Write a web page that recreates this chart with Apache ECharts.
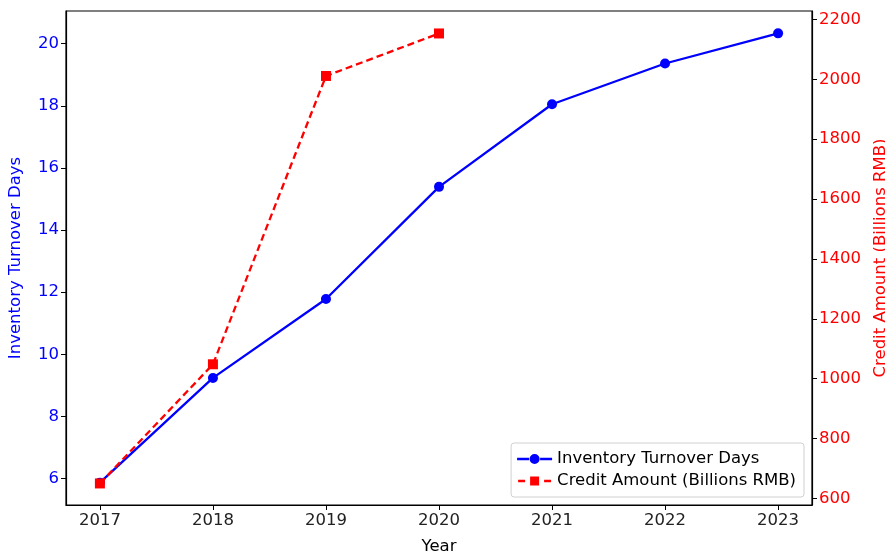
<!DOCTYPE html>
<html>
<head>
<meta charset="utf-8">
<script src="https://cdn.jsdelivr.net/npm/echarts@6/dist/echarts.min.js"></script>
<style>
  html, body { margin: 0; padding: 0; background: #fff; }
  #chart { width: 885px; height: 557px; }
</style>
</head>
<body>
<div id="chart"></div>
<script>
// data
const years = [2017, 2018, 2019, 2020, 2021, 2022, 2023];
const turnoverDays = [5.87, 9.24, 11.78, 15.39, 18.05, 19.36, 20.33];
const creditYears = [2017, 2018, 2019, 2020];
const creditAmount = [650, 1048, 2011, 2153];

const leftTicks = [6, 8, 10, 12, 14, 16, 18, 20];
const rightTicks = [600, 800, 1000, 1200, 1400, 1600, 1800, 2000, 2200];

const chart = echarts.init(document.getElementById('chart'));
const font = 'DejaVu Sans';
const fs = 16.5;

// legend icons: line + marker
const blueIcon = 'path://M0,3.8 L12,3.8 L12,6.2 L0,6.2 Z M23,3.8 L35,3.8 L35,6.2 L23,6.2 Z M12.5,5 a5,5 0 1,0 10,0 a5,5 0 1,0 -10,0 Z';
const redIcon = 'path://M1,3.8 L8,3.8 L8,6.2 L1,6.2 Z M27,3.8 L34,3.8 L34,6.2 L27,6.2 Z M13,0.5 L22,0.5 L22,9.5 L13,9.5 Z M0,0 L0.01,0 L0.01,0.01 Z M35,10 L34.99,10 L34.99,9.99 Z';

const option = {
    animation: false,
    textStyle: { fontFamily: font },
    grid: {
        left: 66, right: 73, top: 11, bottom: 52,
        containLabel: false, outerBoundsMode: 'none',
        show: true, borderColor: '#000', borderWidth: 1.2
    },
    legend: {
        orient: 'vertical',
        right: 81, bottom: 60,
        itemWidth: 35, itemHeight: 10, itemGap: 2,
        padding: [6, 8, 6, 6],
        backgroundColor: 'rgba(255,255,255,0.8)',
        borderColor: '#d0d0d0', borderWidth: 1, borderRadius: 3,
        textStyle: { fontFamily: font, fontSize: fs, color: '#000', lineHeight: 20 },
        data: [
            { name: 'Inventory Turnover Days', icon: blueIcon },
            { name: 'Credit Amount (Billions RMB)', icon: redIcon }
        ]
    },
    xAxis: {
        type: 'value', min: 2016.7, max: 2023.3,
        name: 'Year', nameLocation: 'middle', nameGap: 33,
        nameTextStyle: { fontFamily: font, fontSize: fs, color: '#000' },
        axisLine: { show: true, lineStyle: { color: '#000', width: 1.2 } },
        axisTick: { show: true, length: 5, lineStyle: { color: '#000' }, customValues: years },
        axisLabel: { color: '#222', fontSize: fs, margin: 7, customValues: years, formatter: v => String(v) },
        splitLine: { show: false }
    },
    yAxis: [
        {
            type: 'value', position: 'left', min: 5.15, max: 21.05,
            name: 'Inventory Turnover Days', nameLocation: 'middle', nameGap: 42,
            nameTextStyle: { fontFamily: font, fontSize: fs, color: 'blue' },
            axisLine: { show: true, lineStyle: { color: '#000', width: 1.2 } },
            axisTick: { show: true, length: 5, lineStyle: { color: '#000' }, customValues: leftTicks },
            axisLabel: { color: 'blue', fontSize: fs, margin: 7, customValues: leftTicks, formatter: v => String(v) },
            splitLine: { show: false }
        },
        {
            type: 'value', position: 'right', min: 578, max: 2228,
            name: 'Credit Amount (Billions RMB)', nameLocation: 'middle', nameGap: 60,
            nameRotate: 90,
            nameTextStyle: { fontFamily: font, fontSize: fs, color: 'red' },
            axisLine: { show: true, lineStyle: { color: '#000', width: 1.2 } },
            axisTick: { show: true, length: 5, lineStyle: { color: '#000' }, customValues: rightTicks },
            axisLabel: { color: 'red', fontSize: fs, margin: 7, customValues: rightTicks, formatter: v => String(v) },
            splitLine: { show: false }
        }
    ],
    series: [
        {
            name: 'Inventory Turnover Days',
            type: 'line', yAxisIndex: 0,
            data: years.map((y, i) => [y, turnoverDays[i]]),
            symbol: 'circle', symbolSize: 10,
            lineStyle: { color: 'blue', width: 2.3 },
            itemStyle: { color: 'blue' }
        },
        {
            name: 'Credit Amount (Billions RMB)',
            type: 'line', yAxisIndex: 1,
            data: creditYears.map((y, i) => [y, creditAmount[i]]),
            symbol: 'rect', symbolSize: 10,
            lineStyle: { color: 'red', width: 2.3, type: [7, 4] },
            itemStyle: { color: 'red' }
        }
    ]
};

chart.setOption(option);
</script>
</body>
</html>
